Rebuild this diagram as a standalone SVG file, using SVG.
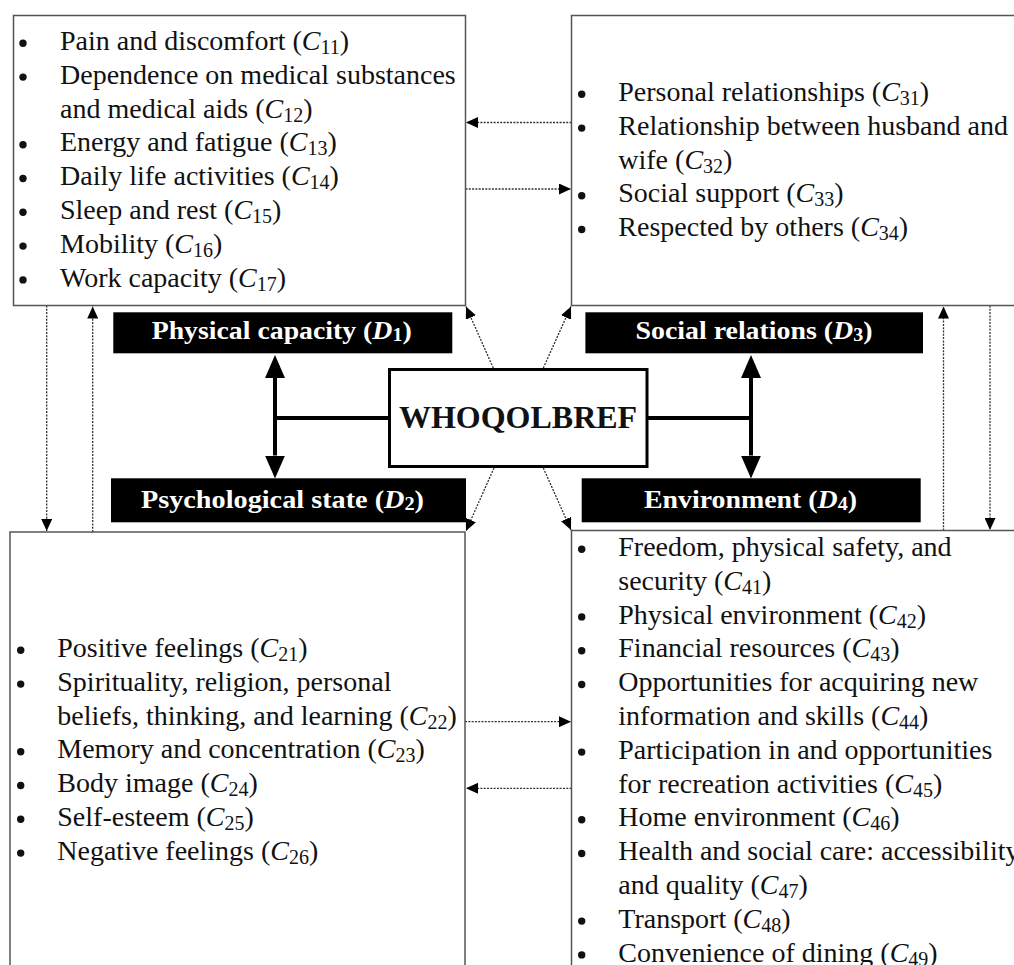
<svg xmlns="http://www.w3.org/2000/svg" width="1014" height="965" viewBox="0 0 1014 965">
<style>
.box{fill:#fff;stroke:#555;stroke-width:1.5}
.t{font-family:"Liberation Serif","Times New Roman",serif;font-size:28px;fill:#111}
.i{font-style:italic}
.s{font-size:20px}
.lab{fill:#000}
.lt{font-family:"Liberation Serif","Times New Roman",serif;font-size:25px;font-weight:bold;fill:#fff}
.ls{font-size:18px}
.bul{fill:#111}
.dot{fill:none;stroke:#333;stroke-width:1.3;stroke-dasharray:2 1.3}
.thick{fill:none;stroke:#000;stroke-width:4}
</style>
<defs>
<marker id="ad" markerUnits="userSpaceOnUse" markerWidth="12" markerHeight="11" viewBox="0 0 12 11" refX="12" refY="5.5" orient="auto">
<path d="M0,0 L12,5.5 L0,11 z" fill="#000"/>
</marker>
<marker id="at" markerUnits="userSpaceOnUse" markerWidth="23" markerHeight="20" viewBox="0 0 23 20" refX="0" refY="10" orient="auto-start-reverse">
<path d="M0,0 L23,10 L0,20 z" fill="#000"/>
</marker>
</defs>

<g id="connectors">
<line class="dot" x1="46.7" y1="305.5" x2="46.7" y2="531" marker-end="url(#ad)"/>
<line class="dot" x1="92.7" y1="532" x2="92.7" y2="306.5" marker-end="url(#ad)"/>
<line class="dot" x1="943.5" y1="530.5" x2="943.5" y2="306.5" marker-end="url(#ad)"/>
<line class="dot" x1="990" y1="305.5" x2="990" y2="530" marker-end="url(#ad)"/>
<line class="dot" x1="571.5" y1="122.5" x2="466" y2="122.5" marker-end="url(#ad)"/>
<line class="dot" x1="465.5" y1="189" x2="571" y2="189" marker-end="url(#ad)"/>
<line class="dot" x1="465" y1="721.7" x2="571" y2="721.7" marker-end="url(#ad)"/>
<line class="dot" x1="571.5" y1="788.3" x2="466" y2="788.3" marker-end="url(#ad)"/>
<line class="dot" x1="493.3" y1="368" x2="466" y2="306.5" marker-end="url(#ad)"/>
<line class="dot" x1="543.3" y1="368" x2="571" y2="306.5" marker-end="url(#ad)"/>
<line class="dot" x1="494" y1="468" x2="466" y2="531" marker-end="url(#ad)"/>
<line class="dot" x1="543.3" y1="468" x2="571" y2="530" marker-end="url(#ad)"/>
<line class="thick" x1="275" y1="378" x2="275" y2="455.5" marker-start="url(#at)" marker-end="url(#at)"/>
<line class="thick" x1="275" y1="418" x2="389" y2="418"/>
<line class="thick" x1="751" y1="378" x2="751" y2="455.5" marker-start="url(#at)" marker-end="url(#at)"/>
<line class="thick" x1="647" y1="418" x2="751" y2="418"/>
</g>

<g id="physical-items">
<rect class="box" x="13.5" y="15.5" width="452" height="290"/>
<circle class="bul" cx="23" cy="43.3" r="3.7"/>
<circle class="bul" cx="23" cy="77.1" r="3.7"/>
<circle class="bul" cx="23" cy="144.7" r="3.7"/>
<circle class="bul" cx="23" cy="178.5" r="3.7"/>
<circle class="bul" cx="23" cy="212.3" r="3.7"/>
<circle class="bul" cx="23" cy="246.1" r="3.7"/>
<circle class="bul" cx="23" cy="279.9" r="3.7"/>
<text class="t" x="60" y="50">Pain and discomfort (<tspan class="i">C</tspan><tspan class="s" dy="4">11</tspan><tspan dy="-4">)</tspan></text>
<text class="t" x="60" y="83.8">Dependence on medical substances</text>
<text class="t" x="60" y="117.6">and medical aids (<tspan class="i">C</tspan><tspan class="s" dy="4">12</tspan><tspan dy="-4">)</tspan></text>
<text class="t" x="60" y="151.4">Energy and fatigue (<tspan class="i">C</tspan><tspan class="s" dy="4">13</tspan><tspan dy="-4">)</tspan></text>
<text class="t" x="60" y="185.2">Daily life activities (<tspan class="i">C</tspan><tspan class="s" dy="4">14</tspan><tspan dy="-4">)</tspan></text>
<text class="t" x="60" y="219">Sleep and rest (<tspan class="i">C</tspan><tspan class="s" dy="4">15</tspan><tspan dy="-4">)</tspan></text>
<text class="t" x="60" y="252.8">Mobility (<tspan class="i">C</tspan><tspan class="s" dy="4">16</tspan><tspan dy="-4">)</tspan></text>
<text class="t" x="60" y="286.6">Work capacity (<tspan class="i">C</tspan><tspan class="s" dy="4">17</tspan><tspan dy="-4">)</tspan></text>
</g>

<g id="social-items">
<rect class="box" x="571.5" y="15.5" width="500" height="290"/>
<circle class="bul" cx="581.7" cy="94.3" r="3.7"/>
<circle class="bul" cx="581.7" cy="128.1" r="3.7"/>
<circle class="bul" cx="581.7" cy="195.7" r="3.7"/>
<circle class="bul" cx="581.7" cy="229.5" r="3.7"/>
<text class="t" x="618.3" y="101">Personal relationships (<tspan class="i">C</tspan><tspan class="s" dy="4">31</tspan><tspan dy="-4">)</tspan></text>
<text class="t" x="618.3" y="134.8">Relationship between husband and</text>
<text class="t" x="618.3" y="168.6">wife (<tspan class="i">C</tspan><tspan class="s" dy="4">32</tspan><tspan dy="-4">)</tspan></text>
<text class="t" x="618.3" y="202.4">Social support (<tspan class="i">C</tspan><tspan class="s" dy="4">33</tspan><tspan dy="-4">)</tspan></text>
<text class="t" x="618.3" y="236.2">Respected by others (<tspan class="i">C</tspan><tspan class="s" dy="4">34</tspan><tspan dy="-4">)</tspan></text>
</g>

<g id="psychological-items">
<rect class="box" x="10" y="532" width="455" height="500"/>
<circle class="bul" cx="20.7" cy="650.3" r="3.7"/>
<circle class="bul" cx="20.7" cy="684.1" r="3.7"/>
<circle class="bul" cx="20.7" cy="751.7" r="3.7"/>
<circle class="bul" cx="20.7" cy="785.5" r="3.7"/>
<circle class="bul" cx="20.7" cy="819.3" r="3.7"/>
<circle class="bul" cx="20.7" cy="853.1" r="3.7"/>
<text class="t" x="57.3" y="657">Positive feelings (<tspan class="i">C</tspan><tspan class="s" dy="4">21</tspan><tspan dy="-4">)</tspan></text>
<text class="t" x="57.3" y="690.8">Spirituality, religion, personal</text>
<text class="t" x="57.3" y="724.6">beliefs, thinking, and learning (<tspan class="i">C</tspan><tspan class="s" dy="4">22</tspan><tspan dy="-4">)</tspan></text>
<text class="t" x="57.3" y="758.4">Memory and concentration (<tspan class="i">C</tspan><tspan class="s" dy="4">23</tspan><tspan dy="-4">)</tspan></text>
<text class="t" x="57.3" y="792.2">Body image (<tspan class="i">C</tspan><tspan class="s" dy="4">24</tspan><tspan dy="-4">)</tspan></text>
<text class="t" x="57.3" y="826">Self-esteem (<tspan class="i">C</tspan><tspan class="s" dy="4">25</tspan><tspan dy="-4">)</tspan></text>
<text class="t" x="57.3" y="859.8">Negative feelings (<tspan class="i">C</tspan><tspan class="s" dy="4">26</tspan><tspan dy="-4">)</tspan></text>
</g>

<g id="environment-items">
<rect class="box" x="571.5" y="530.5" width="500" height="500"/>
<circle class="bul" cx="581.7" cy="549.3" r="3.7"/>
<circle class="bul" cx="581.7" cy="616.9" r="3.7"/>
<circle class="bul" cx="581.7" cy="650.7" r="3.7"/>
<circle class="bul" cx="581.7" cy="684.5" r="3.7"/>
<circle class="bul" cx="581.7" cy="752.1" r="3.7"/>
<circle class="bul" cx="581.7" cy="819.7" r="3.7"/>
<circle class="bul" cx="581.7" cy="853.5" r="3.7"/>
<circle class="bul" cx="581.7" cy="921.1" r="3.7"/>
<circle class="bul" cx="581.7" cy="954.9" r="3.7"/>
<text class="t" x="618.3" y="556">Freedom, physical safety, and</text>
<text class="t" x="618.3" y="589.8">security (<tspan class="i">C</tspan><tspan class="s" dy="4">41</tspan><tspan dy="-4">)</tspan></text>
<text class="t" x="618.3" y="623.6">Physical environment (<tspan class="i">C</tspan><tspan class="s" dy="4">42</tspan><tspan dy="-4">)</tspan></text>
<text class="t" x="618.3" y="657.4">Financial resources (<tspan class="i">C</tspan><tspan class="s" dy="4">43</tspan><tspan dy="-4">)</tspan></text>
<text class="t" x="618.3" y="691.2">Opportunities for acquiring new</text>
<text class="t" x="618.3" y="725">information and skills (<tspan class="i">C</tspan><tspan class="s" dy="4">44</tspan><tspan dy="-4">)</tspan></text>
<text class="t" x="618.3" y="758.8">Participation in and opportunities</text>
<text class="t" x="618.3" y="792.6">for recreation activities (<tspan class="i">C</tspan><tspan class="s" dy="4">45</tspan><tspan dy="-4">)</tspan></text>
<text class="t" x="618.3" y="826.4">Home environment (<tspan class="i">C</tspan><tspan class="s" dy="4">46</tspan><tspan dy="-4">)</tspan></text>
<text class="t" x="618.3" y="860.2">Health and social care: accessibility</text>
<text class="t" x="618.3" y="894">and quality (<tspan class="i">C</tspan><tspan class="s" dy="4">47</tspan><tspan dy="-4">)</tspan></text>
<text class="t" x="618.3" y="927.8">Transport (<tspan class="i">C</tspan><tspan class="s" dy="4">48</tspan><tspan dy="-4">)</tspan></text>
<text class="t" x="618.3" y="961.6">Convenience of dining (<tspan class="i">C</tspan><tspan class="s" dy="4">49</tspan><tspan dy="-4">)</tspan></text>
</g>

<g id="whoqolbref">
<rect x="389.5" y="369.5" width="257.5" height="97" fill="#fff" stroke="#000" stroke-width="3"/>
<text x="518" y="428" text-anchor="middle" font-family="'Liberation Serif','Times New Roman',serif" font-size="32" font-weight="bold" fill="#111">WHOQOLBREF</text>
</g>

<g id="d1">
<rect class="lab" x="113.3" y="312.3" width="339" height="41"/>
<text class="lt" x="151.7" y="339.3" textLength="260" lengthAdjust="spacingAndGlyphs">Physical capacity (<tspan class="i">D</tspan><tspan class="ls" dy="2">1</tspan><tspan dy="-2">)</tspan></text>
</g>

<g id="d3">
<rect class="lab" x="585.4" y="312.3" width="337.6" height="41"/>
<text class="lt" x="635.5" y="339.3" textLength="237" lengthAdjust="spacingAndGlyphs">Social relations (<tspan class="i">D</tspan><tspan class="ls" dy="2">3</tspan><tspan dy="-2">)</tspan></text>
</g>

<g id="d2">
<rect class="lab" x="111" y="478.3" width="355" height="44"/>
<text class="lt" x="141" y="507.7" textLength="283" lengthAdjust="spacingAndGlyphs">Psychological state (<tspan class="i">D</tspan><tspan class="ls" dy="2">2</tspan><tspan dy="-2">)</tspan></text>
</g>

<g id="d4">
<rect class="lab" x="581.7" y="478.3" width="339" height="44"/>
<text class="lt" x="644" y="507.7" textLength="213" lengthAdjust="spacingAndGlyphs">Environment (<tspan class="i">D</tspan><tspan class="ls" dy="2">4</tspan><tspan dy="-2">)</tspan></text>
</g>
</svg>
